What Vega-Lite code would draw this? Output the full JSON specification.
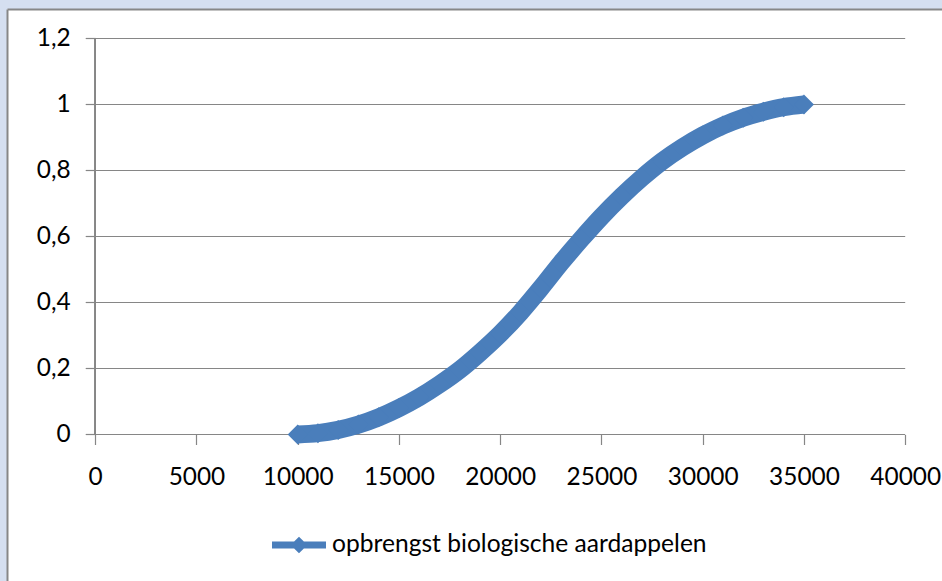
{
  "$schema": "https://vega.github.io/schema/vega-lite/v6.json",
  "width": 935,
  "height": 572,
  "autosize": "none",
  "padding": {"left": 7, "top": 9, "right": 0, "bottom": 0},
  "background": "#d5dff0",
  "config": {"view": {"stroke": null, "fill": "#ffffff"}, "font": "Lato"},
  "datasets": {
    "curve": [
      {"opbrengst": 10000, "waarde": 0.000, "reeks": "opbrengst biologische aardappelen"},
      {"opbrengst": 11000, "waarde": 0.004, "reeks": "opbrengst biologische aardappelen"},
      {"opbrengst": 12000, "waarde": 0.014, "reeks": "opbrengst biologische aardappelen"},
      {"opbrengst": 13000, "waarde": 0.030, "reeks": "opbrengst biologische aardappelen"},
      {"opbrengst": 14000, "waarde": 0.052, "reeks": "opbrengst biologische aardappelen"},
      {"opbrengst": 15000, "waarde": 0.080, "reeks": "opbrengst biologische aardappelen"},
      {"opbrengst": 16000, "waarde": 0.113, "reeks": "opbrengst biologische aardappelen"},
      {"opbrengst": 17000, "waarde": 0.152, "reeks": "opbrengst biologische aardappelen"},
      {"opbrengst": 18000, "waarde": 0.196, "reeks": "opbrengst biologische aardappelen"},
      {"opbrengst": 19000, "waarde": 0.248, "reeks": "opbrengst biologische aardappelen"},
      {"opbrengst": 20000, "waarde": 0.305, "reeks": "opbrengst biologische aardappelen"},
      {"opbrengst": 21000, "waarde": 0.370, "reeks": "opbrengst biologische aardappelen"},
      {"opbrengst": 22000, "waarde": 0.443, "reeks": "opbrengst biologische aardappelen"},
      {"opbrengst": 23000, "waarde": 0.520, "reeks": "opbrengst biologische aardappelen"},
      {"opbrengst": 24000, "waarde": 0.592, "reeks": "opbrengst biologische aardappelen"},
      {"opbrengst": 25000, "waarde": 0.660, "reeks": "opbrengst biologische aardappelen"},
      {"opbrengst": 26000, "waarde": 0.722, "reeks": "opbrengst biologische aardappelen"},
      {"opbrengst": 27000, "waarde": 0.778, "reeks": "opbrengst biologische aardappelen"},
      {"opbrengst": 28000, "waarde": 0.828, "reeks": "opbrengst biologische aardappelen"},
      {"opbrengst": 29000, "waarde": 0.870, "reeks": "opbrengst biologische aardappelen"},
      {"opbrengst": 30000, "waarde": 0.906, "reeks": "opbrengst biologische aardappelen"},
      {"opbrengst": 31000, "waarde": 0.936, "reeks": "opbrengst biologische aardappelen"},
      {"opbrengst": 32000, "waarde": 0.960, "reeks": "opbrengst biologische aardappelen"},
      {"opbrengst": 33000, "waarde": 0.978, "reeks": "opbrengst biologische aardappelen"},
      {"opbrengst": 34000, "waarde": 0.992, "reeks": "opbrengst biologische aardappelen"},
      {"opbrengst": 35000, "waarde": 1.000, "reeks": "opbrengst biologische aardappelen"}
    ],
    "grid": [{"g": 0}, {"g": 0.2}, {"g": 0.4}, {"g": 0.6}, {"g": 0.8}, {"g": 1.0}, {"g": 1.2}]
  },
  "resolve": {"axis": {"x": "independent", "y": "independent"}},
  "layer": [
    {
      "data": {"name": "grid"},
      "mark": {"type": "rule", "color": "#868686", "strokeWidth": 1.2},
      "encoding": {
        "y": {"field": "g", "type": "quantitative",
              "scale": {"domain": [-0.44394, 1.28939], "nice": false, "zero": false},
              "axis": {"orient": "left", "offset": 0, "domain": true, "domainColor": "#878787", "domainWidth": 2, "ticks": false, "labels": false, "grid": false, "title": null}},
        "x": {"datum": 0, "type": "quantitative",
              "scale": {"domain": [-4355.6, 41817.3], "nice": false, "zero": false},
              "axis": {"orient": "top", "offset": 0, "domain": true, "domainColor": "#878787", "domainWidth": 2, "ticks": false, "labels": false, "grid": false, "title": null}},
        "x2": {"datum": 40000}
      }
    },
    {
      "data": {"name": "grid"},
      "mark": {"type": "rule", "color": "#868686", "strokeWidth": 1.2},
      "encoding": {
        "x": {"datum": 0, "type": "quantitative", "scale": {"domain": [-4355.6, 41817.3], "nice": false, "zero": false}, "axis": null},
        "y": {"datum": 0, "type": "quantitative", "scale": {"domain": [-0.44394, 1.28939], "nice": false, "zero": false}, "axis": null},
        "y2": {"datum": 1.2}
      }
    },
    {
      "data": {"name": "curve"},
      "mark": {"type": "line", "color": "#4a7ebb", "strokeWidth": 18, "interpolate": "monotone", "strokeCap": "butt"},
      "encoding": {
        "x": {"field": "opbrengst", "type": "quantitative",
              "scale": {"domain": [-4355.6, 41817.3], "nice": false, "zero": false},
              "axis": {"orient": "bottom", "offset": -146.5, "domain": false, "grid": false, "title": null,
                       "values": [0, 5000, 10000, 15000, 20000, 25000, 30000, 35000, 40000], "format": "d",
                       "tickSize": 10, "tickColor": "#868686", "tickWidth": 1.2,
                       "labelFont": "Lato", "labelFontSize": 24.4, "labelColor": "#000000", "labelPadding": 21, "labelFlush": false, "labelOverlap": false}},
        "y": {"field": "waarde", "type": "quantitative",
              "scale": {"domain": [-0.44394, 1.28939], "nice": false, "zero": false},
              "axis": {"orient": "left", "offset": -88.2, "domain": false, "grid": false, "title": null,
                       "values": [0, 0.2, 0.4, 0.6, 0.8, 1.0, 1.2],
                       "labelExpr": "replace(format(datum.value, '~g'), '.', ',')",
                       "tickSize": 10, "tickColor": "#868686", "tickWidth": 1.2,
                       "labelFont": "Lato", "labelFontSize": 24.4, "labelColor": "#000000", "labelPadding": 15, "labelFlush": false, "labelOverlap": false}}
      }
    },
    {
      "data": {"name": "curve"},
      "mark": {"type": "point", "shape": "diamond", "filled": true, "size": 400, "opacity": 1, "strokeWidth": 0},
      "encoding": {
        "x": {"field": "opbrengst", "type": "quantitative", "scale": {"domain": [-4355.6, 41817.3], "nice": false, "zero": false}, "axis": null},
        "y": {"field": "waarde", "type": "quantitative", "scale": {"domain": [-0.44394, 1.28939], "nice": false, "zero": false}, "axis": null},
        "color": {"field": "reeks", "type": "nominal", "scale": {"range": ["#4a7ebb"]},
                  "legend": {"orient": "none", "legendX": 265, "legendY": 509, "title": null, "padding": 0,
                             "symbolType": "M-1,-0.13L-0.18,-0.13L0,-0.31L0.18,-0.13L1,-0.13L1,0.13L0.18,0.13L0,0.31L-0.18,0.13L-1,0.13Z",
                             "symbolSize": 2916, "symbolStrokeWidth": 0, "symbolOpacity": 1,
                             "labelFont": "Lato", "labelFontSize": 24.6, "labelColor": "#000000", "labelOffset": 6, "labelLimit": 800}}
      }
    }
  ]
}
